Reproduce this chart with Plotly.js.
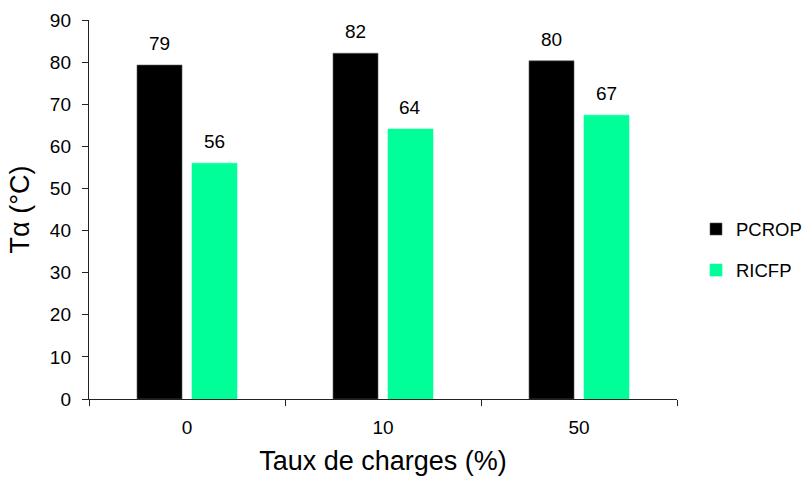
<!DOCTYPE html>
<html><head><meta charset="utf-8">
<script src="https://cdn.plot.ly/plotly-3.0.1.min.js"></script>
<style>body{margin:0;background:#fff}#c{width:807px;height:477px}</style>
</head><body><div id="c"></div>
<script>
const categories = ['0', '10', '50'];
const pcrop = [79.3, 82.1, 80.3];
const ricfp = [56.0, 64.1, 67.4];
const seriesNames = ['PCROP', 'RICFP'];
const colors = ['#000000', '#00FF99'];

const font = 'Liberation Sans, Arial, sans-serif';
const traces = [pcrop, ricfp].map((vals, i) => ({
  type: 'bar', x: categories, y: vals, name: seriesNames[i],
  legendgroup: seriesNames[i],
  marker: {color: colors[i], line: {color: i === 0 ? '#555' : colors[i], width: 0.6}},
  hoverinfo: 'none'
}));

const bargap = 0.439;
const slot = (1 - bargap) / 2;
const annotations = [];
[pcrop, ricfp].forEach((vals, s) => {
  vals.forEach((v, i) => {
    annotations.push({
      x: i + (s === 0 ? -slot / 2 : slot / 2), y: v, xref: 'x', yref: 'y',
      text: String(Math.round(v)), showarrow: false, yanchor: 'bottom', yshift: 9,
      font: {family: font, size: 19, color: '#000'}
    });
  });
});

const layout = {
  width: 807, height: 477,
  margin: {l: 89, r: 130, t: 20, b: 78},
  paper_bgcolor: '#fff', plot_bgcolor: '#fff',
  barmode: 'group', bargap: bargap, bargroupgap: 0.182,
  font: {family: font, size: 18, color: '#000'},
  showlegend: true,
  legend: {xref: 'container', yref: 'container', x: 696 / 807, xanchor: 'left', y: 1 - 250 / 477, yanchor: 'middle',
    font: {family: font, size: 18.5, color: '#000'}, tracegroupgap: 14, traceorder: 'grouped', itemwidth: 30},
  xaxis: {
    type: 'category', showline: true, linecolor: '#222', linewidth: 1.2,
    ticks: 'outside', tickson: 'boundaries', ticklen: 6, tickcolor: '#222',
    ticklabelstandoff: 11,
    tickfont: {family: font, size: 19, color: '#000'},
    title: {text: 'Taux de charges (%)', font: {family: font, size: 27, color: '#000'}, standoff: 14},
    showgrid: false, zeroline: false, fixedrange: true
  },
  yaxis: {
    range: [0, 90], dtick: 10, showline: true, linecolor: '#222', linewidth: 1.2,
    ticks: 'outside', ticklen: 6, tickcolor: '#222', ticklabelstandoff: 7,
    tickfont: {family: font, size: 19, color: '#000'},
    title: {text: 'Tα (°C)', font: {family: font, size: 27, color: '#000'}, standoff: 12},
    showgrid: false, zeroline: false, fixedrange: true
  },
  annotations: annotations
};
Plotly.newPlot('c', traces, layout, {displayModeBar: false, staticPlot: true});
</script></body></html>
